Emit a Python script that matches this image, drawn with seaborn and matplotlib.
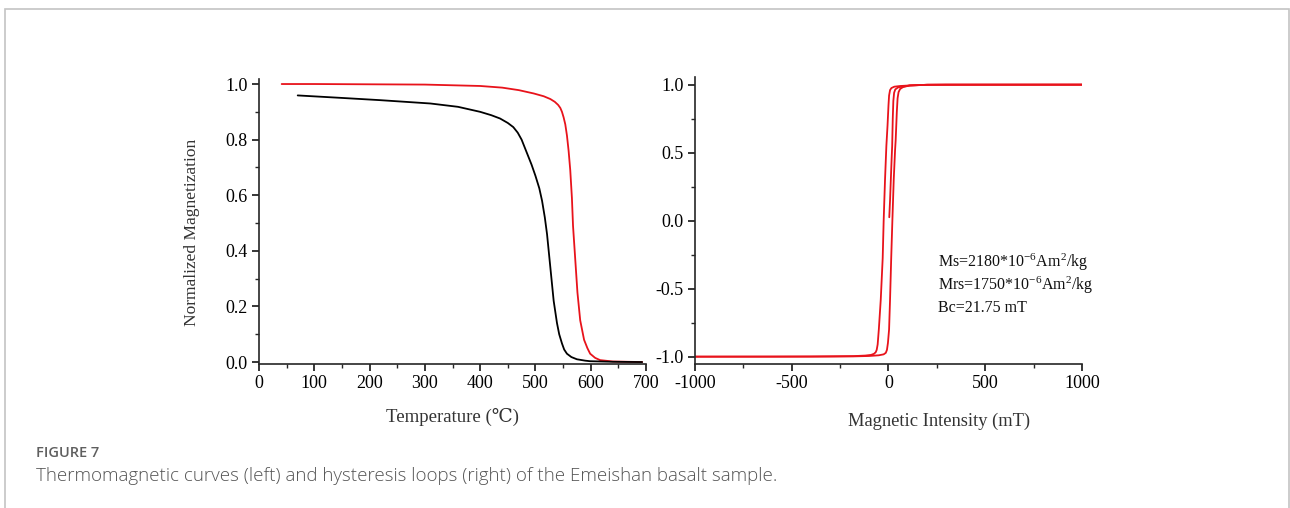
import numpy as np
import pandas as pd
import matplotlib
matplotlib.use("Agg")
import matplotlib.pyplot as plt
import seaborn as sns
from matplotlib.ticker import MultipleLocator
from matplotlib.patches import Rectangle

# ---------------- data ----------------
# Thermomagnetic curves (left)
red_T = [41, 100, 200, 300, 400, 440, 470, 497, 515, 527, 535, 541, 545, 548, 551, 554, 557, 560, 563, 566, 568, 570, 572, 574, 576, 579, 581, 585, 588, 594, 599, 608, 617, 640, 693]
red_M = [1.0, 1.0, 0.999, 0.998, 0.993, 0.987, 0.978, 0.966, 0.956, 0.946, 0.936, 0.925, 0.914, 0.9, 0.88, 0.855, 0.815, 0.76, 0.69, 0.59, 0.49, 0.43, 0.37, 0.31, 0.25, 0.19, 0.15, 0.11, 0.08, 0.05, 0.03, 0.015, 0.007, 0.002, 0.0]
blk_T = [70, 150, 219, 310, 360, 400, 420, 436, 450, 460, 468, 475, 481, 487, 493, 500, 507, 512, 517, 521, 524, 527, 530, 533, 536, 539, 543, 548, 552, 557, 565, 575, 590, 599, 640, 693]
blk_M = [0.959, 0.95, 0.942, 0.93, 0.918, 0.90, 0.888, 0.876, 0.86, 0.845, 0.825, 0.8, 0.77, 0.74, 0.71, 0.67, 0.625, 0.58, 0.52, 0.46, 0.40, 0.34, 0.28, 0.22, 0.18, 0.14, 0.10, 0.067, 0.045, 0.03, 0.018, 0.01, 0.005, 0.003, 0.001, 0.0]

# Hysteresis loop (right)
desc_H = [1000, 600, 300, 200, 110, 60, 30, 15, 8, 3, 0, -5, -11, -18, -25, -30, -40, -50, -56, -61, -66, -75, -90, -120, -180, -400, -1000]
desc_M = [1.0, 1.0, 1.0, 0.999, 0.994, 0.99, 0.985, 0.975, 0.96, 0.92, 0.85, 0.7, 0.55, 0.3, 0.0, -0.275, -0.58, -0.8, -0.91, -0.95, -0.967, -0.979, -0.987, -0.992, -0.996, -0.999, -1.0]
asc_H = [-1000, -600, -300, -180, -100, -50, -25, -14, -8, -3, 3, 8, 14, 20, 27, 34, 37, 43, 47, 52, 60, 75, 110, 200, 300, 600, 1000]
asc_M = [-1.0, -1.0, -0.999, -0.998, -0.995, -0.99, -0.983, -0.972, -0.95, -0.9, -0.8, -0.58, -0.275, 0.0, 0.3, 0.52, 0.59, 0.8, 0.9, 0.945, 0.968, 0.982, 0.994, 0.999, 1.0, 1.0, 1.0]
init_H = [4, 8, 12, 16, 19, 22, 25, 29, 35, 50, 110, 200, 1000]
init_M = [0.025, 0.15, 0.3, 0.45, 0.55, 0.75, 0.88, 0.94, 0.965, 0.98, 0.994, 0.999, 1.0]

left_xticks = [0, 100, 200, 300, 400, 500, 600, 700]
left_yticks = [0.0, 0.2, 0.4, 0.6, 0.8, 1.0]
right_xticks = [-1000, -500, 0, 500, 1000]
right_yticks = [-1.0, -0.5, 0.0, 0.5, 1.0]

annot_lines = ["Ms=2180*10$^{\\mathregular{-6}}$Am$^{\\mathregular{2}}$/kg",
               "Mrs=1750*10$^{\\mathregular{-6}}$Am$^{\\mathregular{2}}$/kg",
               "Bc=21.75 mT"]

caption_title = "FIGURE 7"
caption_text = "Thermomagnetic curves (left) and hysteresis loops (right) of the Emeishan basalt sample."

# ---------------- style ----------------
sns.set_style("ticks")
plt.rcParams['font.family'] = ['Liberation Serif', 'DejaVu Serif']
plt.rcParams['mathtext.fontset'] = 'custom'
plt.rcParams['mathtext.rm'] = 'Liberation Serif'
plt.rcParams['mathtext.it'] = 'Liberation Serif:italic'
plt.rcParams['axes.linewidth'] = 1.2
plt.rcParams['xtick.direction'] = 'out'
plt.rcParams['ytick.direction'] = 'out'

RED = '#e8131b'
TICK_FS = 13
W, H = 1290, 508
fig = plt.figure(figsize=(W / 100, H / 100), dpi=100)

def ax_rect(x0, y_top, x1, y_bot):
    return [x0 / W, 1 - y_bot / H, (x1 - x0) / W, (y_bot - y_top) / H]

axL = fig.add_axes(ax_rect(259, 79.3, 646, 364))
axR = fig.add_axes(ax_rect(695, 77.3, 1082, 364))

dfL = pd.concat([
    pd.DataFrame({'T': red_T, 'M': red_M, 'run': 'heat'}),
    pd.DataFrame({'T': blk_T, 'M': blk_M, 'run': 'cool'}),
])
sns.lineplot(data=dfL[dfL.run == 'heat'], x='T', y='M', ax=axL, color=RED, lw=1.3, sort=False, estimator=None)
sns.lineplot(data=dfL[dfL.run == 'cool'], x='T', y='M', ax=axL, color='black', lw=1.3, sort=False, estimator=None)

for hx, my in [(desc_H, desc_M), (asc_H, asc_M), (init_H, init_M)]:
    sns.lineplot(x=hx, y=my, ax=axR, color=RED, lw=1.3, sort=False, estimator=None)

axL.set_xlim(0, 700)
axL.set_ylim(-0.007, 1.017)
axR.set_xlim(-1000, 1000)
axR.set_ylim(-1.054, 1.054)

for ax in (axL, axR):
    sns.despine(ax=ax)
    ax.tick_params(which='major', length=5, width=1.1, labelsize=TICK_FS, pad=3, colors='black')
    ax.tick_params(which='minor', length=3, width=1.0)
    for s in ax.spines.values():
        s.set_linewidth(1.2)

axL.set_xticks(left_xticks)
axL.set_yticks(left_yticks)
axL.set_xticklabels([str(v) for v in left_xticks])
axL.set_yticklabels([f"{v:.1f}" for v in left_yticks])
axL.xaxis.set_minor_locator(MultipleLocator(50))
axL.yaxis.set_minor_locator(MultipleLocator(0.1))

axR.set_xticks(right_xticks)
axR.set_yticks(right_yticks)
axR.set_xticklabels([str(v) for v in right_xticks])
axR.set_yticklabels([f"{v:.1f}" for v in right_yticks])
axR.xaxis.set_minor_locator(MultipleLocator(250))
axR.yaxis.set_minor_locator(MultipleLocator(0.25))

axL.set_xlabel("Temperature (℃)", fontsize=13.5, color='#333333')
axL.set_ylabel("Normalized Magnetization", fontsize=12.5, color='#333333')
axL.yaxis.set_label_coords(-0.152, 0.464)
axR.set_xlabel("Magnetic Intensity (mT)", fontsize=13.3, color='#333333')
axR.set_ylabel("")
axR.xaxis.set_label_coords(0.63, -0.17)
axL.xaxis.set_label_coords(0.5, -0.155)

for i, t in enumerate(annot_lines):
    axR.text((938 - 695) / 387, (364 - (262 + i * 23)) / 286.7, t, transform=axR.transAxes,
             fontsize=11.5, ha='left', va='center', color='#111111')

# card border and caption
fig.add_artist(Rectangle((4.5 / W, -0.05), (1289 - 4.5) / W, (1 - 9.5 / H) + 0.05,
                         transform=fig.transFigure, fill=False, edgecolor='#c4c4c4', lw=1.2))
fig.text(36 / W, 1 - 453 / H, caption_title, fontsize=10.5, family='Open Sans', weight='semibold',
         color='#5f5f5f', ha='left', va='center')
fig.text(36 / W, 1 - 476 / H, caption_text, fontsize=13.5, family='Open Sans', weight='light',
         color='#555555', ha='left', va='center')

fig.savefig("out.png", dpi=100)
